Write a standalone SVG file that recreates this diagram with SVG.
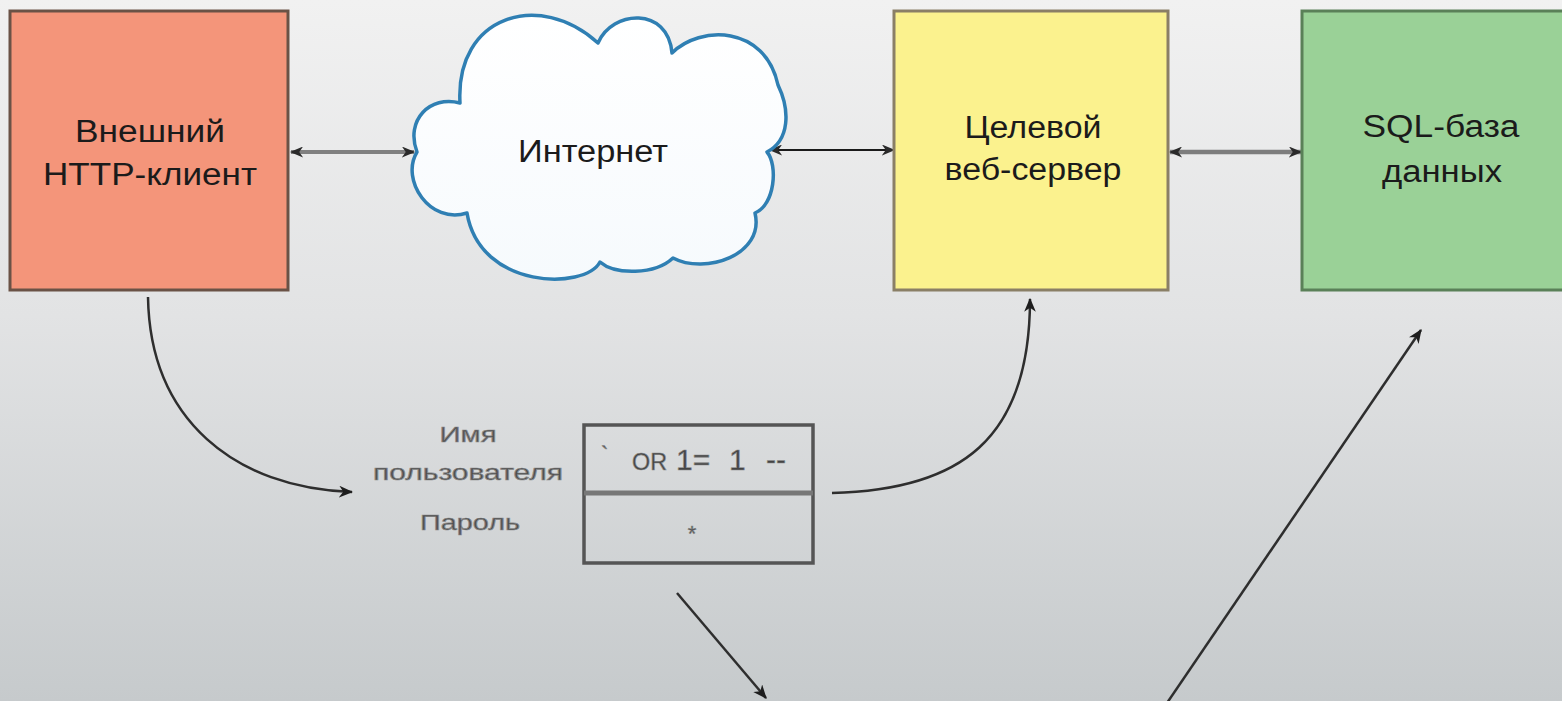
<svg xmlns="http://www.w3.org/2000/svg" width="1562" height="701" viewBox="0 0 1562 701">
  <defs>
    <linearGradient id="bg" x1="0" y1="0" x2="0" y2="1">
      <stop offset="0" stop-color="#f1f1f1"/>
      <stop offset="0.45" stop-color="#e2e3e4"/>
      <stop offset="1" stop-color="#c6cacc"/>
    </linearGradient>
    <linearGradient id="cloudfill" x1="0" y1="0" x2="0" y2="1">
      <stop offset="0" stop-color="#ffffff"/>
      <stop offset="1" stop-color="#f6fafd"/>
    </linearGradient>
    <marker id="ah" viewBox="0 0 12 10" refX="11" refY="5" markerWidth="14" markerHeight="11" markerUnits="userSpaceOnUse" orient="auto-start-reverse">
      <path d="M0,0 L12,5 L0,10 L3.5,5 Z" fill="#2a2a2a"/>
    </marker>
    <marker id="ahs" viewBox="0 0 12 10" refX="11" refY="5" markerWidth="14" markerHeight="12" markerUnits="userSpaceOnUse" orient="auto-start-reverse">
      <path d="M0,0 L12,5 L0,10 L3.5,5 Z" fill="#1e1e1e"/>
    </marker>
    <style>
      .box { stroke-width: 3; }
      .lbl { font-family: "Liberation Sans", Arial, sans-serif; font-size: 31px; fill: #1b1b1b; text-anchor: middle; }
      .frm { font-family: "Liberation Sans", Arial, sans-serif; font-size: 22px; fill: #4e4e4e; stroke: #8a8a8a; stroke-width: 0.7; text-anchor: middle; }
      .inp { font-family: "Liberation Sans", Arial, sans-serif; fill: #444444; stroke: #8a8a8a; stroke-width: 0.6; }
      .dbl { fill: none; }
      .cur { fill: none; stroke: #2e2e2e; stroke-width: 2.5; }
    </style>
  </defs>

  <rect x="0" y="0" width="1562" height="701" fill="url(#bg)"/>

  <g id="connectors">
    <line class="dbl" x1="291" y1="152" x2="414" y2="152" stroke="#808080" stroke-width="4" marker-start="url(#ah)" marker-end="url(#ah)"/>
    <line class="dbl" x1="770" y1="150" x2="894" y2="150" stroke="#1a1a1a" stroke-width="1.8" marker-start="url(#ah)" marker-end="url(#ah)"/>
    <line class="dbl" x1="1170" y1="152" x2="1301" y2="152" stroke="#7d7d7d" stroke-width="4.5" marker-start="url(#ah)" marker-end="url(#ah)"/>
    <path class="cur" d="M148,297 C150,420 235,488 352,492" marker-end="url(#ahs)"/>
    <path class="cur" d="M832,493 C960,490 1030,440 1030,299" marker-end="url(#ahs)"/>
    <line class="cur" x1="677" y1="593" x2="766" y2="698" marker-end="url(#ahs)"/>
    <line class="cur" x1="1167" y1="703" x2="1421" y2="330" marker-end="url(#ahs)"/>
  </g>

  <g id="client">
    <rect class="box" x="10" y="11" width="278" height="279" fill="#f4957a" stroke="#6a5246"/>
    <text class="lbl" x="150" y="142" textLength="150" lengthAdjust="spacingAndGlyphs">Внешний</text>
    <text class="lbl" x="150" y="185" textLength="214" lengthAdjust="spacingAndGlyphs">HTTP-клиент</text>
  </g>

  <g id="internet">
    <path d="M417,152 C405,120 430,95 460,103 C455,15 540,-10 598,43 C612,10 668,6 672,53 C700,25 765,25 778,85 C790,110 790,140 767,152 C778,165 775,205 755,213 C765,255 705,275 673,258 C655,275 615,275 600,262 C585,290 480,290 467,213 C430,225 400,180 417,152 Z" fill="url(#cloudfill)" stroke="#2f7fb3" stroke-width="3.5" stroke-linejoin="round"/>
    <text class="lbl" x="593" y="162" textLength="150" lengthAdjust="spacingAndGlyphs">Интернет</text>
  </g>

  <g id="webserver">
    <rect class="box" x="894" y="11" width="274" height="279" fill="#fbf28e" stroke="#8a7f66"/>
    <text class="lbl" x="1033" y="138" textLength="137" lengthAdjust="spacingAndGlyphs">Целевой</text>
    <text class="lbl" x="1033" y="180" textLength="177" lengthAdjust="spacingAndGlyphs">веб-сервер</text>
  </g>

  <g id="database">
    <rect class="box" x="1302" y="11" width="275" height="279" fill="#9ad197" stroke="#5a8058"/>
    <text class="lbl" x="1441" y="137" textLength="157" lengthAdjust="spacingAndGlyphs">SQL-база</text>
    <text class="lbl" x="1442" y="182" textLength="120" lengthAdjust="spacingAndGlyphs">данных</text>
  </g>

  <g id="loginform">
    <text class="frm" x="468" y="442" textLength="57" lengthAdjust="spacingAndGlyphs">Имя</text>
    <text class="frm" x="468" y="480" textLength="190" lengthAdjust="spacingAndGlyphs">пользователя</text>
    <text class="frm" x="470" y="530" textLength="100" lengthAdjust="spacingAndGlyphs">Пароль</text>
    <rect x="584" y="425" width="229" height="138" fill="none" stroke="#555555" stroke-width="3.5"/>
    <line x1="584" y1="493" x2="813" y2="493" stroke="#777777" stroke-width="5"/>
    <text class="inp" x="601" y="462" font-size="22">`</text>
    <text class="inp" x="632" y="470" font-size="23" textLength="35" lengthAdjust="spacingAndGlyphs">OR</text>
    <text class="inp" x="676" y="470" font-size="30">1=</text>
    <text class="inp" x="729" y="470" font-size="30">1</text>
    <text class="inp" x="766" y="470" font-size="30">--</text>
    <text class="inp" x="692" y="541" font-size="22" text-anchor="middle">*</text>
  </g>
</svg>
